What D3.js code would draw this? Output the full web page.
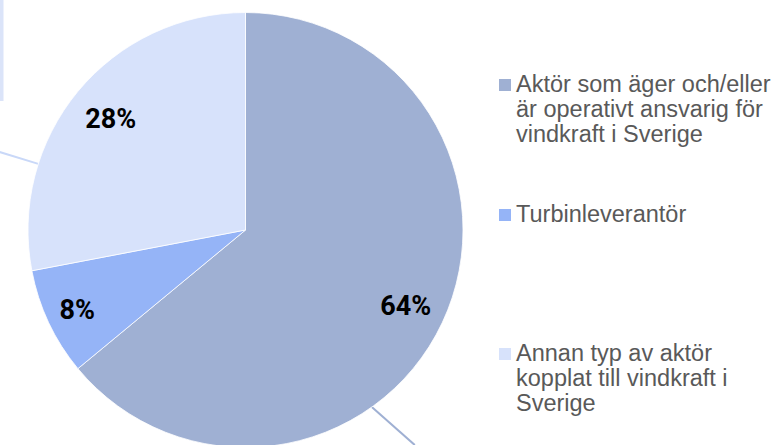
<!DOCTYPE html>
<html>
<head>
<meta charset="utf-8">
<script src="https://cdn.jsdelivr.net/npm/d3@7"></script>
<style>
  html, body { margin: 0; padding: 0; background: #fff; }
  svg { display: block; }
</style>
</head>
<body>
<svg id="chart"></svg>
<script>
// Data
const categories = [
    "Aktör som äger och/eller är operativt ansvarig för vindkraft i Sverige",
    "Turbinleverantör",
    "Annan typ av aktör kopplat till vindkraft i Sverige"
];
const values = [64, 8, 28];
const legendLines = [
    ["Aktör som äger och/eller", "är operativt ansvarig för", "vindkraft i Sverige"],
    ["Turbinleverantör"],
    ["Annan typ av aktör", "kopplat till vindkraft i", "Sverige"]
];
const colors = ["#9fb0d3", "#95b4f7", "#d7e2fb"];

// Layout
const width = 777;
const height = 445;
const cx = 245.5, cy = 230, radius = 217.5;
const labelRadius = [177, 186, 175];
const legendX = 499;
const legendTop = [79, 209, 348];
const lineHeight = 25;

const svg = d3.select("#chart")
    .attr("width", width)
    .attr("height", height);

// Partly visible callout box at the top left
svg.append("rect")
    .attr("x", -200).attr("y", -10)
    .attr("width", 203.5).attr("height", 111)
    .attr("fill", "#dbe4f9");

const pie = d3.pie().sort(null).value(d => d)(values);
const arc = d3.arc().innerRadius(0).outerRadius(radius);

const g = svg.append("g").attr("transform", `translate(${cx},${cy})`);

// Leader lines running off the picture (angle in degrees, offset of end)
const leaders = [
    { angle: 144.5, dx: 43, dy: 38, color: "#9fb0d3" },
    { angle: 287.7, dx: -39, dy: -12, color: "#c9d8f8" }
];
g.selectAll(".leader")
    .data(leaders)
    .enter().append("line")
    .attr("class", "leader")
    .attr("x1", d => radius * Math.sin(d.angle * Math.PI / 180))
    .attr("y1", d => -radius * Math.cos(d.angle * Math.PI / 180))
    .attr("x2", d => radius * Math.sin(d.angle * Math.PI / 180) + d.dx)
    .attr("y2", d => -radius * Math.cos(d.angle * Math.PI / 180) + d.dy)
    .attr("stroke", d => d.color)
    .attr("stroke-width", 2);

// Slices
g.selectAll(".slice")
    .data(pie)
    .enter().append("path")
    .attr("class", "slice")
    .attr("d", arc)
    .attr("fill", (d, i) => colors[i])
    .attr("stroke", "#ffffff")
    .attr("stroke-width", 0.8);

// Percent labels
g.selectAll(".pct")
    .data(pie)
    .enter().append("text")
    .attr("class", "pct")
    .attr("transform", (d, i) => {
        const a = d3.arc().innerRadius(labelRadius[i]).outerRadius(labelRadius[i]);
        return `translate(${a.centroid(d)})`;
    })
    .attr("text-anchor", "middle")
    .attr("dy", "0.36em")
    .style("font-family", "Roboto, 'DejaVu Sans', sans-serif")
    .style("font-weight", "700")
    .style("font-size", "27px")
    .style("fill", "#000")
    .text(d => d.data + "%");

// Legend
const legend = svg.selectAll(".legend")
    .data(categories)
    .enter().append("g")
    .attr("class", "legend")
    .attr("transform", (d, i) => `translate(${legendX},${legendTop[i]})`);

legend.append("rect")
    .attr("width", 12)
    .attr("height", 12)
    .attr("fill", (d, i) => colors[i]);

legend.append("text")
    .attr("x", 17)
    .attr("y", 13)
    .style("font-family", "'Liberation Sans', Arial, sans-serif")
    .style("font-size", "23.5px")
    .style("fill", "#595959")
    .selectAll("tspan")
    .data((d, i) => legendLines[i])
    .enter().append("tspan")
    .attr("x", 17)
    .attr("dy", (d, j) => j === 0 ? 0 : lineHeight)
    .text(d => d);
</script>
</body>
</html>
